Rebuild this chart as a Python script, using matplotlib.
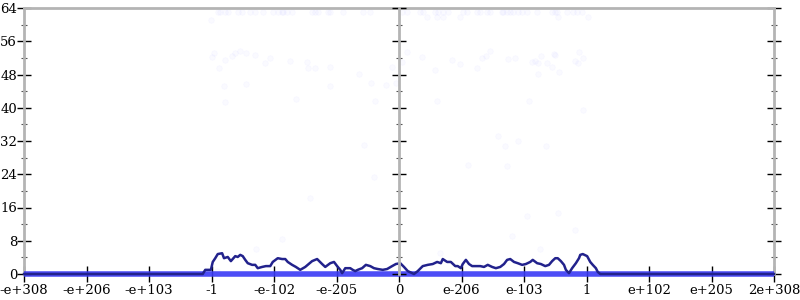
import matplotlib
matplotlib.use('Agg')
import matplotlib.pyplot as plt
from matplotlib.ticker import MultipleLocator

# x is in tick-index units (0..12), tick labels below
tick_labels = ['-e+308', '-e+206', '-e+103', '-1', '-e-102', '-e-205', '0',
               'e-206', 'e-103', '1', 'e+102', 'e+205', '2e+308']

curve_x = [0, 2.86, 2.90, 2.99, 3.02, 3.06, 3.10, 3.17, 3.20, 3.26, 3.31, 3.38,
           3.42, 3.46, 3.50, 3.54, 3.58, 3.65, 3.70, 3.74, 3.81, 3.87, 3.94,
           3.98, 4.06, 4.13, 4.18, 4.22, 4.29, 4.35, 4.42, 4.50, 4.61, 4.69,
           4.77, 4.82, 4.90, 4.96, 5.01, 5.06, 5.09, 5.14, 5.22, 5.26, 5.30,
           5.34, 5.41, 5.47, 5.54, 5.60, 5.66, 5.74, 5.81, 5.89, 5.95, 6.02,
           6.08, 6.14, 6.24, 6.30, 6.38, 6.46, 6.54, 6.61, 6.67, 6.70, 6.77,
           6.83, 6.90, 6.94, 6.99, 7.02, 7.07, 7.12, 7.17, 7.23, 7.30, 7.36,
           7.42, 7.49, 7.55, 7.62, 7.68, 7.73, 7.78, 7.84, 7.90, 7.97, 8.03,
           8.10, 8.14, 8.21, 8.27, 8.34, 8.40, 8.45, 8.50, 8.54, 8.59, 8.64,
           8.67, 8.72, 8.77, 8.83, 8.88, 8.90, 8.94, 9.01, 9.06, 9.10, 9.15,
           9.18, 9.22, 12]
curve_y = [0, 0, 1.0, 1.0, 2.9, 3.8, 4.8, 5.0, 3.8, 4.1, 3.1, 4.3,
           4.1, 4.6, 4.3, 3.4, 2.6, 2.2, 2.2, 1.4, 1.7, 1.9, 1.9,
           2.9, 3.8, 3.6, 3.6, 2.9, 2.2, 1.7, 1.0, 1.7, 3.1, 3.6,
           2.4, 1.7, 2.6, 2.9, 1.9, 1.0, 0.2, 1.4, 1.4, 1.0, 0.7,
           1.0, 1.4, 2.2, 1.9, 1.4, 1.2, 1.0, 1.2, 1.9, 2.4, 2.6,
           1.7, 0.7, 0, 0.7, 1.9, 2.2, 2.4, 2.9, 2.6, 3.6, 2.9,
           2.9, 1.9, 1.9, 1.4, 2.4, 3.4, 2.4, 1.9, 1.9, 1.9, 1.7,
           2.2, 1.7, 1.4, 1.7, 2.4, 3.4, 3.6, 2.9, 2.6, 2.2, 2.4,
           2.9, 3.4, 2.6, 2.4, 1.9, 2.2, 3.1, 3.8, 3.8, 3.1, 2.2,
           1.0, 0.2, 1.4, 2.6, 3.8, 4.6, 4.8, 4.3, 2.9, 2.2, 1.4,
           0.5, 0, 0]

# faint scattered samples
pts_x = [3.10, 3.14, 3.22, 3.26, 3.42, 3.49, 3.62, 3.70, 3.82, 3.98, 4.06,
         4.13, 4.14, 4.21, 4.29, 4.61, 4.66, 4.70, 4.86, 4.90, 5.10, 5.42, 5.54,
         6.05, 6.13, 6.34, 6.38, 6.58, 6.62, 6.70, 6.78, 7.02, 7.09, 7.25, 7.30,
         7.41, 7.46, 7.65, 7.66, 7.73, 7.78, 7.82, 7.90, 7.97, 8.05, 8.21, 8.45,
         8.50, 8.53, 8.69, 8.78, 8.85, 8.93,
         6.45, 6.61, 6.70, 6.98, 8.54, 9.02,
         2.99, 3.01, 3.04, 3.12, 3.20, 3.22, 3.22, 3.33, 3.38, 3.46, 3.55, 3.55,
         3.70, 3.86, 3.94, 4.26, 4.35, 4.53, 4.54, 4.66, 4.90, 4.90, 5.36, 5.44,
         5.55, 5.62, 5.79, 5.89, 5.95,
         6.13, 6.05, 6.37, 6.58, 6.85, 6.98, 7.25, 7.33, 7.39, 7.46, 7.74,
         7.86, 8.13, 8.18, 8.22, 8.27, 8.37, 8.45, 8.48, 8.50, 8.22, 8.56,
         8.82, 8.86, 8.88, 8.94, 6.61, 8.08, 8.94, 7.58, 7.70, 7.90, 8.35,
         5.60, 4.58, 4.13, 3.71, 3.09, 7.10, 7.73, 8.54, 8.05, 7.81, 8.82,
         8.26, 6.66]
pts_y = [63.0] * 23 + [63.0] * 30 + [61.8] * 6 + [
    61.1, 52.2, 53.1, 49.6, 45.2, 51.6, 41.4, 52.5, 53.2, 53.7, 53.2, 45.7,
    52.7, 50.7, 52.0, 51.3, 42.1, 51.0, 49.6, 49.5, 49.8, 45.2, 48.1, 31.0,
    46.0, 41.6, 45.5, 49.8, 46.0,
    53.4, 51.0, 52.2, 49.1, 51.5, 50.5, 49.5, 52.0, 52.5, 53.7, 51.7,
    52.0, 51.0, 51.3, 50.7, 52.5, 50.7, 49.8, 52.9, 52.7, 48.1, 48.6,
    51.3, 50.7, 53.4, 52.0, 41.6, 41.6, 39.5, 33.2, 30.8, 32.0, 30.8,
    23.3, 18.3, 8.4, 6.0, 0.7, 26.2, 26.0, 14.7, 14.0, 9.1, 10.6,
    6.0, 5.0]

fig = plt.figure(figsize=(8, 3), dpi=100)
ax = fig.add_axes([24 / 800, 26 / 300, 750 / 800, 266 / 300])

ax.scatter(pts_x, pts_y, s=16, color='#3030ff', alpha=0.025, zorder=2,
           linewidths=0.6, clip_on=False)
ax.plot([0, 12], [0, 0], color='#3a3af5', lw=4, alpha=0.9, zorder=3,
        solid_capstyle='butt', clip_on=False)
ax.plot(curve_x, curve_y, color='#22228c', lw=1.8, zorder=4, clip_on=False)

ax.set_xlim(0, 12)
ax.set_ylim(0, 64)

for side in ['left', 'right', 'top']:
    ax.spines[side].set_color('#b4b4b4')
    ax.spines[side].set_linewidth(2)
ax.spines['bottom'].set_visible(False)

ax.set_xticks(range(13))
ax.set_xticklabels(tick_labels)
ax.yaxis.set_major_locator(MultipleLocator(8))
ax.yaxis.set_minor_locator(MultipleLocator(4))
ax.tick_params(axis='y', which='major', direction='inout', length=10,
               width=1, color='black', right=True, pad=0)
ax.tick_params(axis='y', which='minor', direction='inout', length=5,
               width=0.8, color='#555555', right=True)
ax.tick_params(axis='x', direction='inout', length=11, width=1,
               color='black', pad=2)
for lab in ax.get_xticklabels() + ax.get_yticklabels():
    lab.set_fontfamily('DejaVu Serif')
    lab.set_fontsize(9.5)

# the zero y-axis in the middle
ax2 = fig.add_axes(ax.get_position(), frameon=True)
ax2.patch.set_visible(False)
ax2.set_xlim(0, 12)
ax2.set_ylim(0, 64)
for side in ['right', 'top', 'bottom']:
    ax2.spines[side].set_visible(False)
ax2.spines['left'].set_position(('data', 6))
ax2.spines['left'].set_color('#b4b4b4')
ax2.spines['left'].set_linewidth(2)
ax2.set_xticks([])
ax2.yaxis.set_major_locator(MultipleLocator(8))
ax2.yaxis.set_minor_locator(MultipleLocator(4))
ax2.tick_params(axis='y', which='major', direction='inout', length=10,
                width=1, color='black', labelleft=False)
ax2.tick_params(axis='y', which='minor', direction='inout', length=5,
                width=0.8, color='#555555')

fig.savefig('out.png', dpi=100)
